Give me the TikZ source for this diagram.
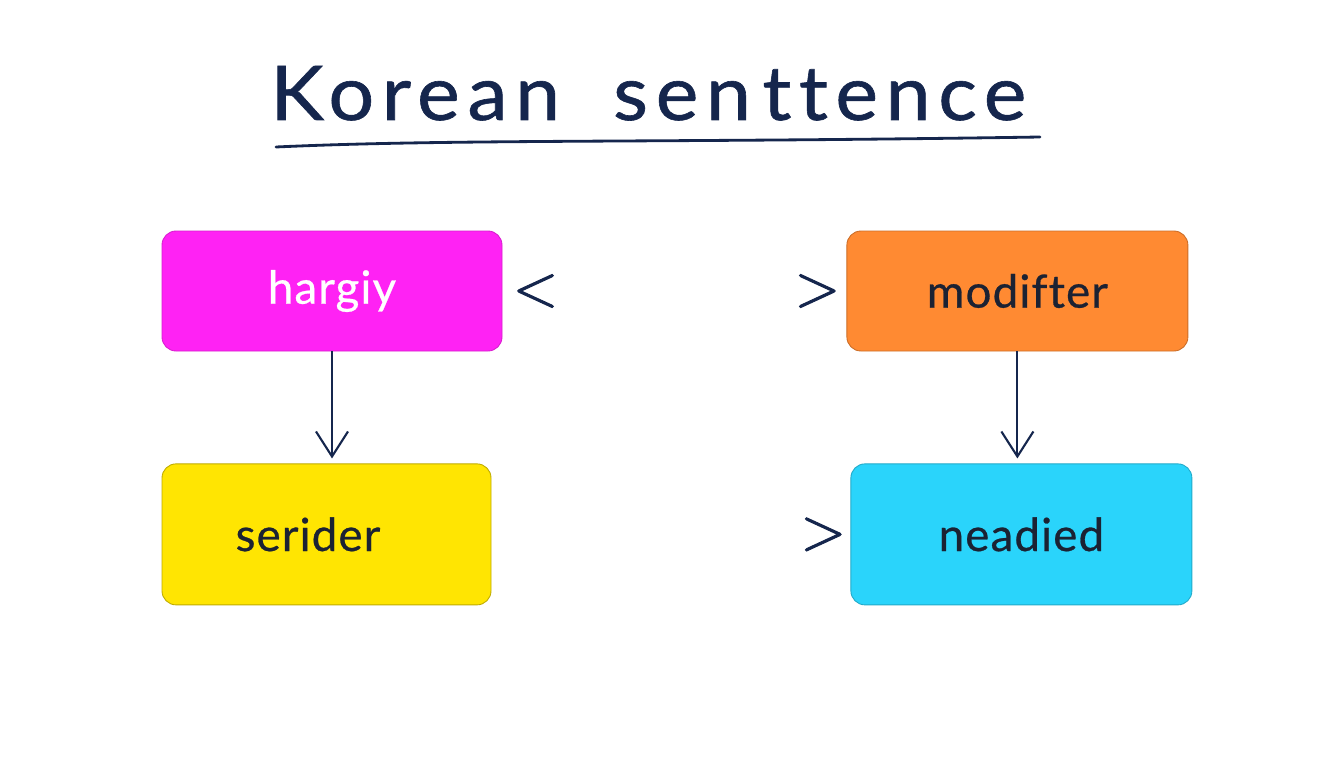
\documentclass[tikz,border=0pt]{standalone}
\usepackage{fontspec}
\usetikzlibrary{arrows.meta, positioning}
\newfontfamily\handfont[LetterSpace=2.5, Ligatures=NoCommon, FakeBold=0.6]{Lato}
\newfontfamily\titlefont[LetterSpace=10, FakeStretch=1.07,
  Ligatures=NoCommon, FakeBold=0.8]{Lato}
\newfontfamily\chevfont[FakeBold=1.6]{Latin Modern Roman}
\definecolor{hotmagenta}{HTML}{FF22F4}
\definecolor{brightorange}{HTML}{FF8A32}
\definecolor{sunyellow}{HTML}{FFE502}
\definecolor{skycyan}{HTML}{2AD4FB}
\definecolor{inknavy}{HTML}{15264D}
\definecolor{labelink}{HTML}{1B2233}

\begin{document}
\begin{tikzpicture}[
  every node/.style={font=\handfont},
  block/.style={
    rectangle, rounded corners=8pt,
    minimum width=6.8cm, minimum height=2.4cm,
    line width=0.5pt, text=labelink,
    font=\handfont\fontsize{26}{30}\selectfont,
  },
  tallblock/.style={block, minimum height=2.82cm},
  chevron/.style={inner sep=0pt, text=inknavy,
    font=\chevfont\fontsize{34}{34}\selectfont},
  arrow/.style={-{Straight Barb[length=5mm,width=6.4mm]},
    line width=1.2pt, color=inknavy, shorten >=0.1cm},
]
\useasboundingbox (0,0) rectangle (26.88,-15.36);
\fill[white] (0,0) rectangle (26.88,-15.36);

% Title
\node[font=\titlefont\fontsize{43}{50}\selectfont, text=inknavy,
      anchor=base west, inner sep=0pt] (title) at (5.4,-2.4)
      {Korean\hspace{0.7em}sen\hspace{0.15em}ttence};
\draw[line width=1.6pt, inknavy, line cap=round]
  (5.52,-2.94) .. controls (9,-2.78) and (13,-2.86) .. (20.8,-2.74);

% Row 1
\node[block, fill=hotmagenta, draw=hotmagenta!85!black, text=white]
      (hargiy) at (6.64,-5.82) {hargiy};
\node[block, fill=brightorange, draw=brightorange!80!black,
      minimum width=6.82cm, right=6.88cm of hargiy] (modifter) {modifter};

% Row 2
\node[tallblock, fill=sunyellow, draw=sunyellow!75!black,
      minimum width=6.58cm, below=2.24cm of hargiy.south west,
      anchor=north west] (serider) {\hspace{-0.74cm}serider};
\node[tallblock, fill=skycyan, draw=skycyan!80!black,
      minimum width=6.82cm, below=2.24cm of modifter.south west,
      anchor=north west, xshift=0.08cm] (neadied) {neadied};

% Chevrons
\node[chevron, right=0.2cm of hargiy]   (ltmark)   {<};
\node[chevron, left=0.12cm of modifter] (gtmodif)  {>};
\node[chevron, left=0.08cm of neadied]  (gtnead)   {>};

% Arrows
\draw[arrow] (hargiy.south) -- (hargiy.south |- serider.north);
\draw[arrow] (modifter.south) -- (modifter.south |- neadied.north);

\end{tikzpicture}
\end{document}
